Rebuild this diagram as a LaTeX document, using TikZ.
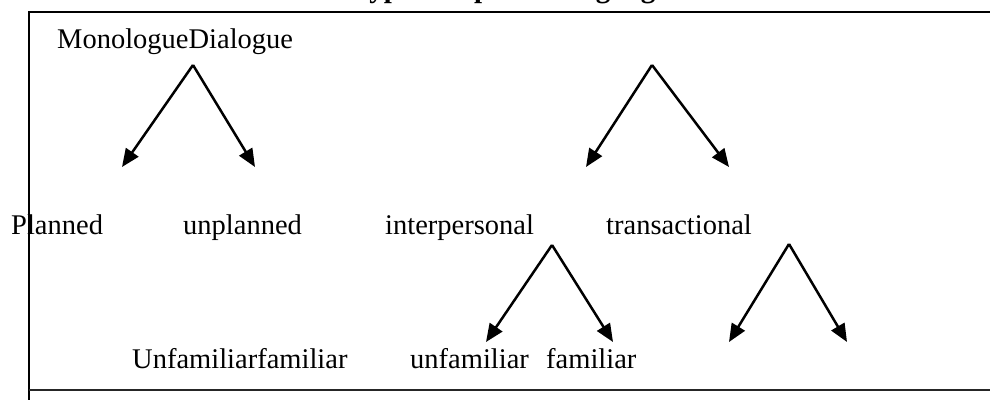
\documentclass[tikz,border=0pt]{standalone}
\usepackage{fontspec}
\setmainfont{Liberation Serif}
\usetikzlibrary{arrows.meta}

\begin{document}
\begin{tikzpicture}[x=1pt,y=-1pt,
  lbl/.style={anchor=base west,inner sep=0pt,font=\fontsize{28.5}{34}\selectfont},
  branch/.style={draw,line width=2.5pt,-{Triangle[length=18pt,width=15pt]}}]
\useasboundingbox (0,0) rectangle (990,400);

% frame
\draw[line width=2pt] (29,12) -- (990,12);
\draw[line width=1.6pt] (29,11) -- (29,400);
\draw[line width=2.8pt,black!85] (29,390) -- (990,390);

\node[lbl,font=\bfseries\fontsize{29}{34}\selectfont] (title) at (352,-3) {Types of spoken language};

\node[lbl] (mono) at (57,48) {MonologueDialogue};
\node[lbl] (planned) at (11,234) {Planned};
\node[lbl] (unplanned) at (183,234) {unplanned};
\node[lbl] (inter) at (385,234) {interpersonal};
\node[lbl] (trans) at (606,234) {transactional};
\node[lbl] (unfam1) at (132,368) {Unfamiliarfamiliar};
\node[lbl] (unfam2) at (410,368) {unfamiliar};
\node[lbl] (fam2) at (546,368) {familiar};

\coordinate (a1) at (193,65);
\coordinate (l1) at (122,167);
\coordinate (r1) at (255,167);
\coordinate (a2) at (652,65);
\coordinate (l2) at (586,167);
\coordinate (r2) at (729,167);
\coordinate (a3) at (552,245);
\coordinate (l3) at (486,342);
\coordinate (r3) at (613,342);
\coordinate (a4) at (789,244);
\coordinate (l4) at (729,342);
\coordinate (r4) at (847,342);

\path[branch] (a1) -- (l1);
\path[branch] (a1) -- (r1);
\path[branch] (a2) -- (l2);
\path[branch] (a2) -- (r2);
\path[branch] (a3) -- (l3);
\path[branch] (a3) -- (r3);
\path[branch] (a4) -- (l4);
\path[branch] (a4) -- (r4);
\end{tikzpicture}
\end{document}
